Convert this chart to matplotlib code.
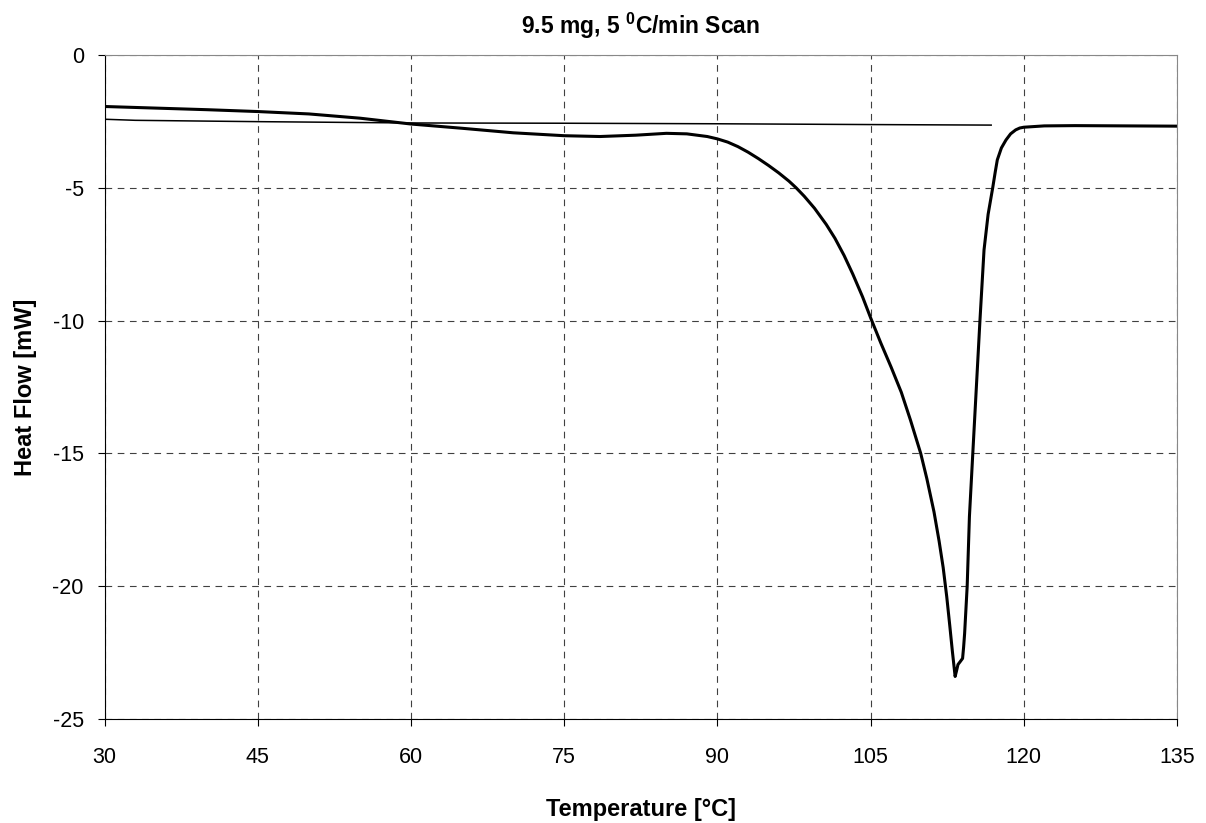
import matplotlib
matplotlib.use("Agg")
import matplotlib.pyplot as plt
from matplotlib.ticker import FuncFormatter

plt.rcParams['font.family'] = ['Liberation Sans', 'DejaVu Sans']
plt.rcParams['mathtext.fontset'] = 'custom'
plt.rcParams['mathtext.rm'] = 'Liberation Sans'
plt.rcParams['mathtext.bf'] = 'Liberation Sans:bold'

# DSC scan
temp = [30, 35, 40, 45, 50, 55, 60, 65, 70, 75, 78.5, 82, 85, 87, 89, 90,
        91, 92, 93, 94, 95, 96, 97, 97.7, 98.5, 99.5, 100.65, 101.5, 102.4,
        103.25, 104.2, 105, 106, 107, 108, 108.9, 109.9, 110.5, 111.2, 111.7,
        112.1, 112.45, 112.75, 113.0, 113.27, 113.4, 113.55, 113.75, 114.0,
        114.1, 114.2, 114.45, 114.67, 115.0, 115.35, 115.7, 116.1, 116.5,
        116.95, 117.2, 117.4, 117.8, 118.25, 118.7, 119.2, 119.6, 120, 122,
        125, 130, 135]
heat_flow = [-1.94, -2.00, -2.06, -2.13, -2.22, -2.38, -2.60, -2.76, -2.93,
             -3.04, -3.07, -3.02, -2.95, -2.97, -3.07, -3.16, -3.28, -3.45,
             -3.66, -3.90, -4.16, -4.44, -4.75, -5.00, -5.32, -5.77, -6.38,
             -6.90, -7.55, -8.25, -9.10, -9.90, -10.85, -11.75, -12.70, -13.75,
             -15.0, -15.95, -17.2, -18.3, -19.3, -20.4, -21.5, -22.45, -23.4,
             -23.2, -22.95, -22.85, -22.72, -22.3, -21.78, -20.0, -17.38,
             -15.0, -12.5, -10.0, -7.34, -6.0, -5.0, -4.4, -3.95, -3.5, -3.2,
             -2.97, -2.82, -2.75, -2.72, -2.67, -2.66, -2.67, -2.68]

# baseline
base_temp = [30, 33, 40, 45, 60, 75, 90, 105, 116.8]
base_flow = [-2.42, -2.46, -2.49, -2.51, -2.56, -2.57, -2.59, -2.62, -2.64]

fig = plt.figure(figsize=(12.06, 8.23), dpi=100)
ax = fig.add_axes([0.0868, 0.1264, 0.8892, 0.8068])

ax.plot(base_temp, base_flow, color='black', lw=1.1)
ax.plot(temp, heat_flow, color='black', lw=2.2, solid_joinstyle='round')

ax.set_xlim(30, 135)
ax.set_ylim(-25, 0)
ax.set_xticks(range(30, 136, 15))
ax.set_yticks(range(-25, 1, 5))
ax.yaxis.set_major_formatter(FuncFormatter(lambda v, p: '%d' % v))
ax.grid(True, color='#404040', linestyle=(0, (6, 5)), lw=0.8)
ax.tick_params(labelsize=15.5, direction='out', length=5, color='black')
ax.tick_params(axis='x', pad=15)
ax.tick_params(axis='y', pad=10)

for s in ['top', 'right']:
    ax.spines[s].set_color('#888888')
for s in ['left', 'bottom']:
    ax.spines[s].set_color('black')

ax.set_title(r'9.5 mg, 5 $^{\mathbf{0}}$C/min Scan', fontsize=16.5,
             fontweight='bold', pad=15)
ax.set_xlabel('Temperature [°C]', fontsize=17, fontweight='bold', labelpad=22)
ax.set_ylabel('Heat Flow [mW]', fontsize=17, fontweight='bold', labelpad=11)

fig.savefig('out.png', dpi=100)
